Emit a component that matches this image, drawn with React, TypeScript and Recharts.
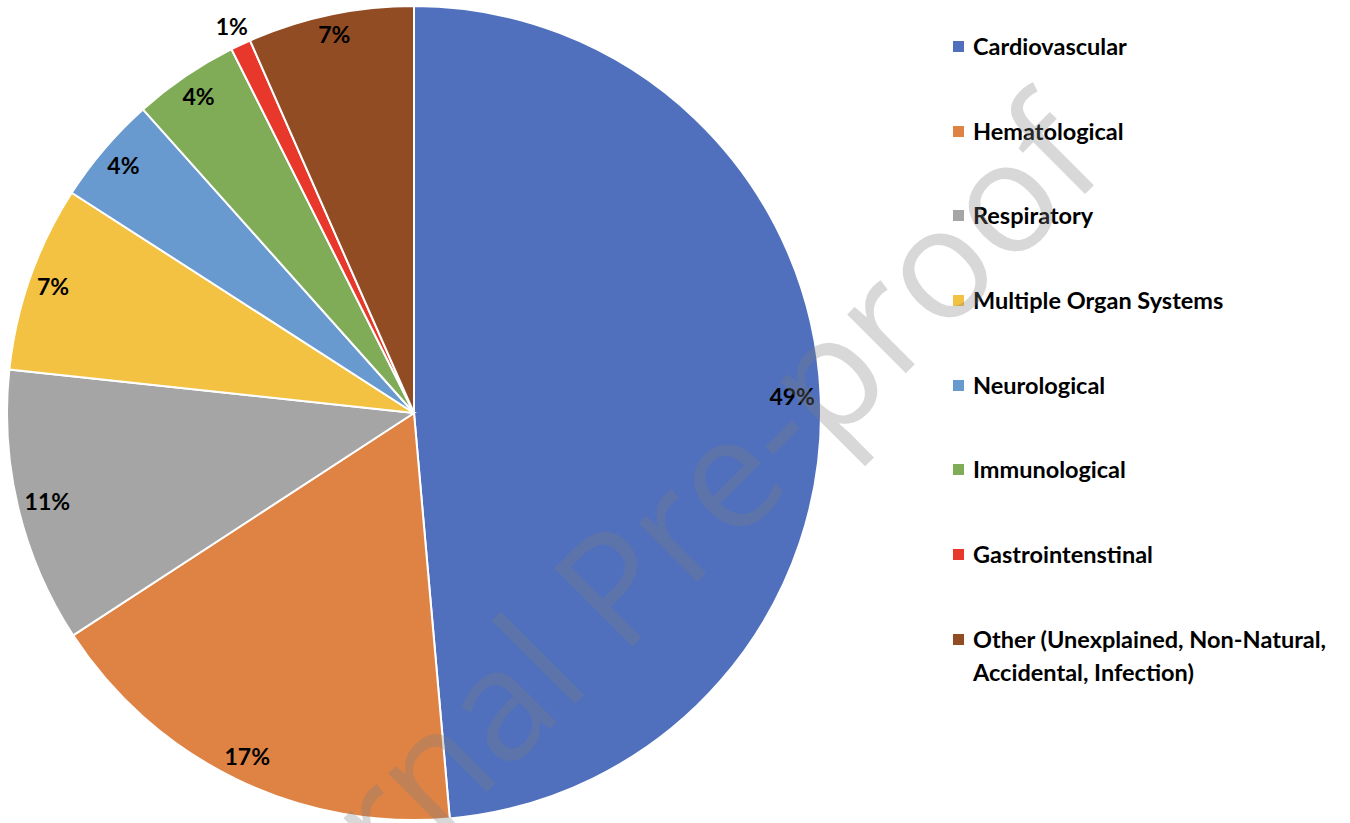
import React from "react";
import { PieChart, Pie, Cell, Legend } from "recharts";

const categories = [
  "Cardiovascular",
  "Hematological",
  "Respiratory",
  "Multiple Organ Systems",
  "Neurological",
  "Immunological",
  "Gastrointenstinal",
  "Other (Unexplained, Non-Natural, Accidental, Infection)",
];
const values = [48.6, 17.2, 10.9, 7.4, 4.3, 4.2, 0.8, 6.6];
const colors = ["#5070BE", "#DF8345", "#A5A5A5", "#F4C242", "#6899CF", "#80AC58", "#E8372B", "#914C23"];
const watermark = "Journal Pre-proof";

const data = categories.map((name, i) => ({ name, value: values[i] }));

const RAD = Math.PI / 180;
const FONT = "Lato, 'Liberation Sans', sans-serif";

const renderLabel = (props: any) => {
  const { cx, cy, midAngle, outerRadius, percent } = props;
  const txt = `${Math.round(percent * 100)}%`;
  const cos = Math.cos(-midAngle * RAD);
  const sin = Math.sin(-midAngle * RAD);
  const w = 13 * txt.length + 5;
  const h = 22;
  let r: number;
  if (percent < 0.02) {
    r = outerRadius + 21;
  } else {
    r = outerRadius - 6 - (Math.abs(cos) * w) / 2 - (Math.abs(sin) * h) / 2;
  }
  const x = cx + r * cos;
  const y = cy + r * sin;
  return (
    <text
      x={x}
      y={y}
      textAnchor="middle"
      dominantBaseline="central"
      fill="#000"
      fontFamily={FONT}
      fontWeight={700}
      fontSize={23}
    >
      {txt}
    </text>
  );
};

const renderLegend = (props: any) => {
  const payload = [...(props.payload || [])].sort(
    (a: any, b: any) => categories.indexOf(a.value) - categories.indexOf(b.value)
  );
  return (
    <div style={{ fontFamily: FONT, fontWeight: 700, fontSize: 23.5, color: "#000" }}>
      {payload.map((entry: any, i: number) => (
        <div
          key={i}
          style={{
            display: "flex",
            alignItems: "flex-start",
            lineHeight: "33px",
            marginBottom: 51.7,
          }}
        >
          <div
            style={{
              width: 11,
              height: 11,
              background: entry.color,
              marginTop: 11,
              marginRight: 9,
              flexShrink: 0,
            }}
          />
          <div style={{ width: 372 }}>{entry.value}</div>
        </div>
      ))}
    </div>
  );
};

export default function App() {
  return (
    <div style={{ position: "absolute", left: 0, top: 0, width: 1350, height: 823, background: "#fff" }}>
      <PieChart width={1350} height={823} margin={{ top: 0, right: 0, bottom: 0, left: 0 }}>
        <Pie
          data={data}
          dataKey="value"
          nameKey="name"
          cx={414}
          cy={413}
          outerRadius={407}
          startAngle={90}
          endAngle={-270}
          stroke="#ffffff"
          strokeWidth={2}
          label={renderLabel}
          labelLine={false}
          isAnimationActive={false}
        >
          {data.map((d, i) => (
            <Cell key={d.name} fill={colors[i]} />
          ))}
        </Pie>
        <Legend
          layout="vertical"
          align="right"
          verticalAlign="top"
          content={renderLegend}
          wrapperStyle={{ position: "absolute", left: 953, top: 30, width: 395 }}
        />
      </PieChart>
      <svg
        width={1350}
        height={823}
        style={{ position: "absolute", left: 0, top: 0, pointerEvents: "none" }}
      >
        <text
          x={1110}
          y={169}
          textAnchor="end"
          transform="rotate(-45 1110 169)"
          fontFamily="'Open Sans', sans-serif"
          fontWeight={500}
          fontSize={155}
          fill="#7f7f7f"
          fillOpacity={0.3}
        >
          {watermark}
        </text>
      </svg>
    </div>
  );
}
